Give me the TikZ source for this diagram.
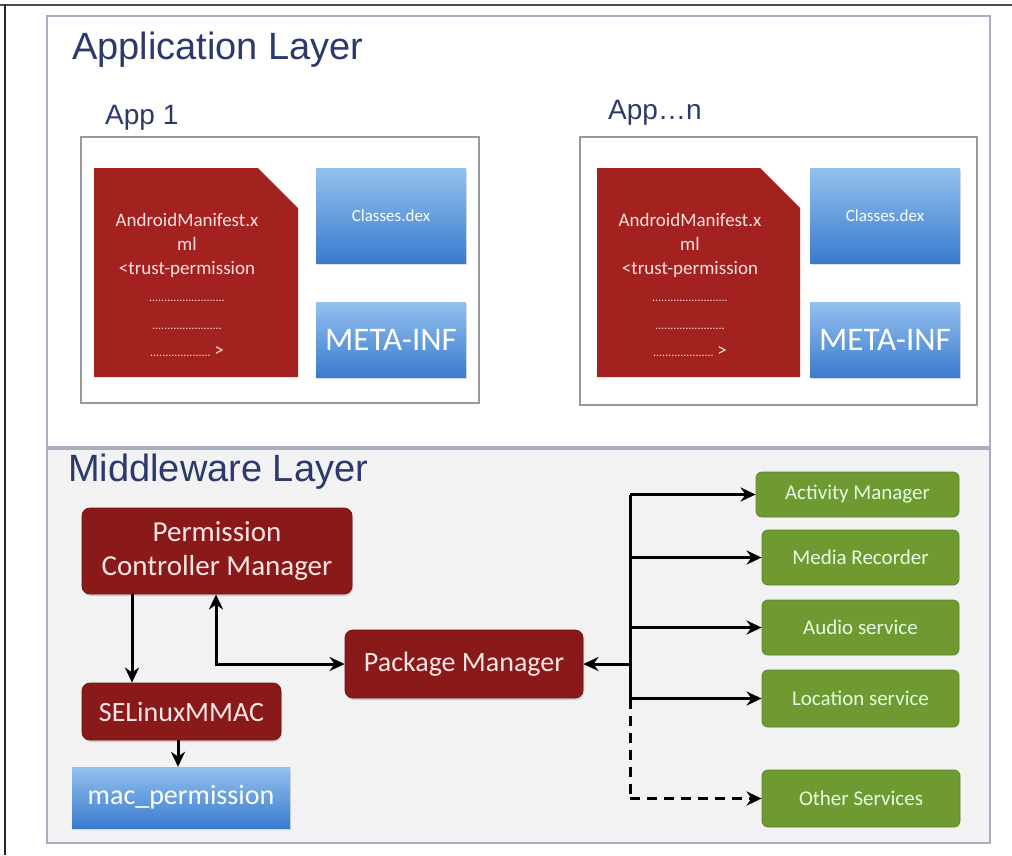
\documentclass[tikz,border=0pt]{standalone}
\usepackage{fontspec}
\setmainfont{Carlito}
\newfontfamily\arialf{Liberation Sans}
\usetikzlibrary{arrows.meta,shadows}
\definecolor{titleblue}{HTML}{2B3A6B}
\definecolor{docred}{HTML}{A3211F}
\definecolor{darkred}{HTML}{8A1A1A}
\definecolor{bluetop}{HTML}{93C1EE}
\definecolor{bluebot}{HTML}{3A7BCF}
\definecolor{greenbox}{HTML}{6E9A31}
\definecolor{greenedge}{HTML}{5E8628}
\definecolor{midfill}{HTML}{F2F2F2}
\definecolor{layeredge}{HTML}{A8AEC0}
\tikzset{
  fs/.style={font=\fontsize{#1}{1.25\dimexpr#1pt\relax}\selectfont},
  layerbox/.style={draw=layeredge, line width=1.2pt},
  appbox/.style={draw=gray!80, line width=1.6pt, fill=white},
  bluebox/.style={rectangle, top color=bluetop, bottom color=bluebot, draw=none,
     text=white, inner sep=0pt, drop shadow={opacity=0.25, shadow xshift=1pt, shadow yshift=-2pt}},
  redbox/.style={rectangle, rounded corners=8pt, fill=darkred, draw=darkred!80!black, line width=0.8pt,
     text=white!90!red, inner sep=0pt, align=center, drop shadow={opacity=0.3, shadow xshift=1pt, shadow yshift=-2pt}},
  greenbox/.style={rectangle, rounded corners=6pt, fill=greenbox, draw=greenedge, line width=0.8pt,
     text=white!88!green, inner sep=0pt, fs=21},
  conn/.style={line width=3pt, -{Stealth[length=15pt,width=14pt]}},
  bconn/.style={line width=3pt, {Stealth[length=15pt,width=14pt]}-{Stealth[length=15pt,width=14pt]}},
  title/.style={anchor=base west, text=titleblue, inner sep=0pt, font=\arialf},
  doctext/.style={text=white!88!red, align=center, inner sep=0pt, fs=19},
}
\newcommand{\boxat}[6]{% name, style, x1,y1,x2,y2, text via after
  \node[#2, minimum width={(#5)-(#3)}, minimum height={(#6)-(#4)}] (#1) at ({((#3)+(#5))/2},{((#4)+(#6))/2})}
\newcommand{\manifest}{AndroidManifest.x\\[0pt]ml\\[0pt]<trust-permission\\[4pt]
  {\fontsize{12}{14}\selectfont .........................}\\[4pt]
  {\fontsize{12}{14}\selectfont .......................}\\[3pt]
  {\fontsize{12}{14}\selectfont .................... }>}
\begin{document}
\begin{tikzpicture}[x=1pt,y=-1pt]
\useasboundingbox (0,0) rectangle (1012,855);
\fill[white] (0,0) rectangle (1012,855);
% outer frame lines
\draw[line width=1.2pt, black!70] (0,5) -- (1012,5);
\draw[line width=1.2pt, black!85] (5,5) -- (5,855);
% layers
\draw[layerbox, fill=white] (47,16) rectangle (990,447);
\draw[layerbox, fill=midfill] (47,449) rectangle (990,843);
\node[title, fs=38] (applayer) at (72,59) {\arialf Application Layer};
\node[title, fs=38] (midlayer) at (68,481) {\arialf Middleware Layer};
\node[title, fs=28] (app1) at (105,124) {\arialf App 1};
\node[title, fs=28] (appn) at (608,119) {\arialf App…n};
% app boxes
\draw[appbox] (81,137) rectangle (479,403);
\draw[appbox] (580,137) rectangle (977,405);
% documents
\fill[docred] (94,168) -- (258,168) -- (298,208) -- (298,377) -- (94,377) -- cycle;
\fill[docred] (597,168) -- (760,168) -- (800,208) -- (800,377) -- (597,377) -- cycle;
\node[doctext] (doc1) at (187,285) {\manifest};
\node[doctext] (docn) at (690,285) {\manifest};
\boxat{cls1}{bluebox, fs=17}{316}{168}{466}{263} {Classes.dex};
\boxat{meta1}{bluebox, fs=33}{316}{302}{466}{377} {META-INF};
\boxat{clsn}{bluebox, fs=17}{810}{168}{960}{263} {Classes.dex};
\boxat{metan}{bluebox, fs=33}{810}{302}{960}{377} {META-INF};
% middleware
\boxat{pcm}{redbox, fs=29}{82}{508}{352}{594} {\raisebox{-4pt}{}Permission\\[-2pt]Controller Manager};
\boxat{sel}{redbox, fs=28}{82}{683}{281}{740} {SELinuxMMAC};
\boxat{mac}{bluebox, fs=28}{72}{767}{290}{828} {mac\_permission};
\boxat{pm}{redbox, fs=28}{345}{630}{583}{698} {Package Manager};
\boxat{am}{greenbox}{756}{472}{959}{517} {Activity Manager};
\boxat{mr}{greenbox}{762}{530}{959}{585} {Media Recorder};
\boxat{as}{greenbox}{762}{600}{959}{655} {Audio service};
\boxat{ls}{greenbox}{762}{670}{959}{727} {Location service};
\boxat{os}{greenbox}{762}{770}{960}{827} {Other Services};
% connectors
\coordinate (busx) at (630,0);
\coordinate (xa) at (132,0);
\coordinate (xb) at (216,0);
\coordinate (xc) at (178,0);
\draw[line width=3pt] (am.west -| busx) -- (ls.west -| busx);
\draw[line width=3pt, dash pattern=on 10pt off 7pt] (ls.west -| busx) -- (os.west -| busx);
\draw[conn] (am.west -| busx) -- (am.west);
\draw[conn] (mr.west -| busx) -- (mr.west);
\draw[conn] (as.west -| busx) -- (as.west);
\draw[conn] (ls.west -| busx) -- (ls.west);
\draw[conn, dash pattern=on 10pt off 7pt] (os.west -| busx) -- (os.west);
\draw[conn] (pm.east -| busx) -- (pm.east);
\draw[conn] (pcm.south -| xa) -- (sel.north -| xa);
\draw[conn] (sel.south -| xc) -- (mac.north -| xc);
\draw[bconn] (pm.west) -| (pcm.south -| xb);
\end{tikzpicture}
\end{document}
